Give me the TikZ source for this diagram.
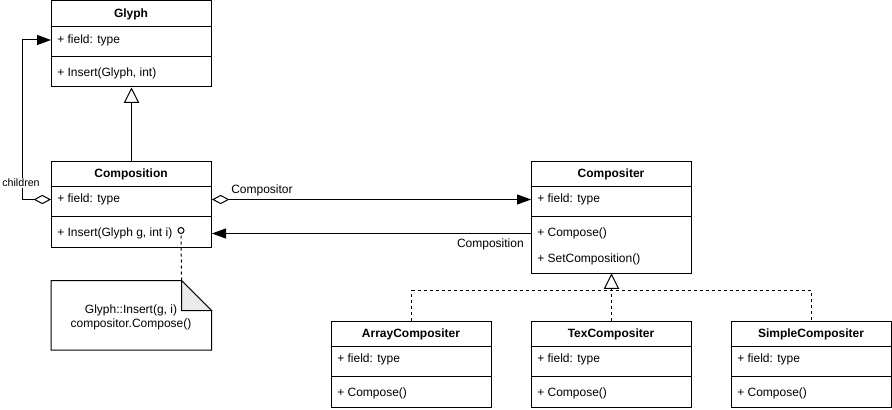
\documentclass[tikz,border=0pt]{standalone}
\usepackage{fontspec}
\setmainfont{Liberation Sans}
\usetikzlibrary{arrows.meta}
\definecolor{foldgray}{HTML}{EBEBEB}
\begin{document}
\begin{tikzpicture}[x=0.75pt,y=-0.75pt,
  every node/.style={font=\fontsize{9}{10.5}\selectfont, inner sep=0pt},
  cbox/.style={draw, line width=0.75pt, minimum width=120pt, anchor=north west},
  ttl/.style={font=\fontsize{9}{10.5}\selectfont\bfseries},
  mem/.style={anchor=west},
  line/.style={line width=0.75pt},
  dsh/.style={line width=0.75pt, dash pattern=on 2.25pt off 2.25pt},
  solidtip/.style={-{Triangle[length=10.5pt,width=7.5pt]}},
  aggtip/.style={{Diamond[fill=white,length=13pt,width=7pt]}-{Triangle[length=10.5pt,width=7.5pt]}},
  opentip/.style={-{Triangle[fill=white,length=11.5pt,width=11.5pt]}},
  lbl/.style={fill=white, inner sep=1pt, font=\fontsize{8}{9.5}\selectfont}
]
\useasboundingbox (0,0) rectangle (892,410);

% ---------- Glyph ----------
\node[cbox, minimum height=64.5pt] (glyph) at (51,0.5) {};
\draw[line] ([yshift=-19.5pt]glyph.north west) -- ([yshift=-19.5pt]glyph.north east);
\draw[line] ([yshift=-42pt]glyph.north west) -- ([yshift=-42pt]glyph.north east);
\node[ttl] (glypht) at (131,14) {Glyph};
\node[mem] (glyphf) at (57,40) {+ field: type};
\node[mem] (glyphm) at (57,73) {+ Insert(Glyph, int)};

% ---------- Composition ----------
\node[cbox, minimum height=64.5pt] (comp) at (51,160.5) {};
\draw[line] ([yshift=-19.5pt]comp.north west) -- ([yshift=-19.5pt]comp.north east);
\draw[line] ([yshift=-42pt]comp.north west) -- ([yshift=-42pt]comp.north east);
\node[ttl] (compt) at (131,174) {Composition};
\node[mem] (compf) at (57,199.5) {+ field: type};
\node[mem] (compm) at (57,233.5) {+ Insert(Glyph g, int i)};

% ---------- Compositer ----------
\node[cbox, minimum height=84pt] (cpr) at (531,160.5) {};
\draw[line] ([yshift=-19.5pt]cpr.north west) -- ([yshift=-19.5pt]cpr.north east);
\draw[line] ([yshift=-42pt]cpr.north west) -- ([yshift=-42pt]cpr.north east);
\node[ttl] (cprt) at (611,174) {Compositer};
\node[mem] (cprf) at (537,199.5) {+ field: type};
\node[mem] (cprm) at (537,233.5) {+ Compose()};
\node[mem] (cprn) at (537,259.5) {+ SetComposition()};

% ---------- ArrayCompositer ----------
\node[cbox, minimum height=64.5pt] (arr) at (331,320.5) {};
\draw[line] ([yshift=-19.5pt]arr.north west) -- ([yshift=-19.5pt]arr.north east);
\draw[line] ([yshift=-42pt]arr.north west) -- ([yshift=-42pt]arr.north east);
\node[ttl] (arrt) at (411,334) {ArrayCompositer};
\node[mem] (arrf) at (337,359.5) {+ field: type};
\node[mem] (arrm) at (337,393.5) {+ Compose()};

% ---------- TexCompositer ----------
\node[cbox, minimum height=64.5pt] (tex) at (531,320.5) {};
\draw[line] ([yshift=-19.5pt]tex.north west) -- ([yshift=-19.5pt]tex.north east);
\draw[line] ([yshift=-42pt]tex.north west) -- ([yshift=-42pt]tex.north east);
\node[ttl] (text) at (611,334) {TexCompositer};
\node[mem] (texf) at (537,359.5) {+ field: type};
\node[mem] (texm) at (537,393.5) {+ Compose()};

% ---------- SimpleCompositer ----------
\node[cbox, minimum height=64.5pt] (smp) at (731,320.5) {};
\draw[line] ([yshift=-19.5pt]smp.north west) -- ([yshift=-19.5pt]smp.north east);
\draw[line] ([yshift=-42pt]smp.north west) -- ([yshift=-42pt]smp.north east);
\node[ttl] (smpt) at (811,334) {SimpleCompositer};
\node[mem] (smpf) at (737,359.5) {+ field: type};
\node[mem] (smpm) at (737,393.5) {+ Compose()};

% ---------- Note ----------
\node[minimum width=120pt, minimum height=51.75pt, anchor=north west] (note) at (51,280.5) {};
\coordinate (fold) at ([xshift=-22.5pt]note.north east);
\draw[line] (note.north west) -- (fold) -- ([yshift=-22.5pt]note.north east)
  -- (note.south east) -- (note.south west) -- cycle;
\filldraw[line, fill=foldgray] (fold) -- ([yshift=-22.5pt]note.north east)
  -- ([xshift=-22.5pt,yshift=-22.5pt]note.north east) -- cycle;
\node[align=center] (notetext) at (131,317) {Glyph::Insert(g, i)\\compositor.Compose()};
\node[circle, draw, line width=0.75pt, minimum size=4.5pt, inner sep=0pt] (dot) at (181,230.5) {};
\draw[dsh] (fold) -- (dot.south);

% ---------- Connectors ----------
\draw[line, opentip] (comp.north) -- (glyph.south);
\draw[line, aggtip] (comp.west |- compf.center) -- ++(-29,0) |- (glyph.west |- glyphf.center);
\node[lbl] (lchildren) at (21,183) {children};

\draw[line, aggtip] (comp.east |- compf.center) -- (cpr.west |- cprf.center);
\node[anchor=west] (lcompositor) at (231,190) {Compositor};

\draw[line, solidtip] (cpr.west |- cprm.center) -- (comp.east |- compm.center);
\node[anchor=east] (lcomposition) at (524,244.5) {Composition};

\coordinate (join) at (611,290.5);
\draw[dsh] (arr.north) |- (join) -| (smp.north);
\draw[dsh, opentip] (tex.north) -- (cpr.south);
\end{tikzpicture}
\end{document}
